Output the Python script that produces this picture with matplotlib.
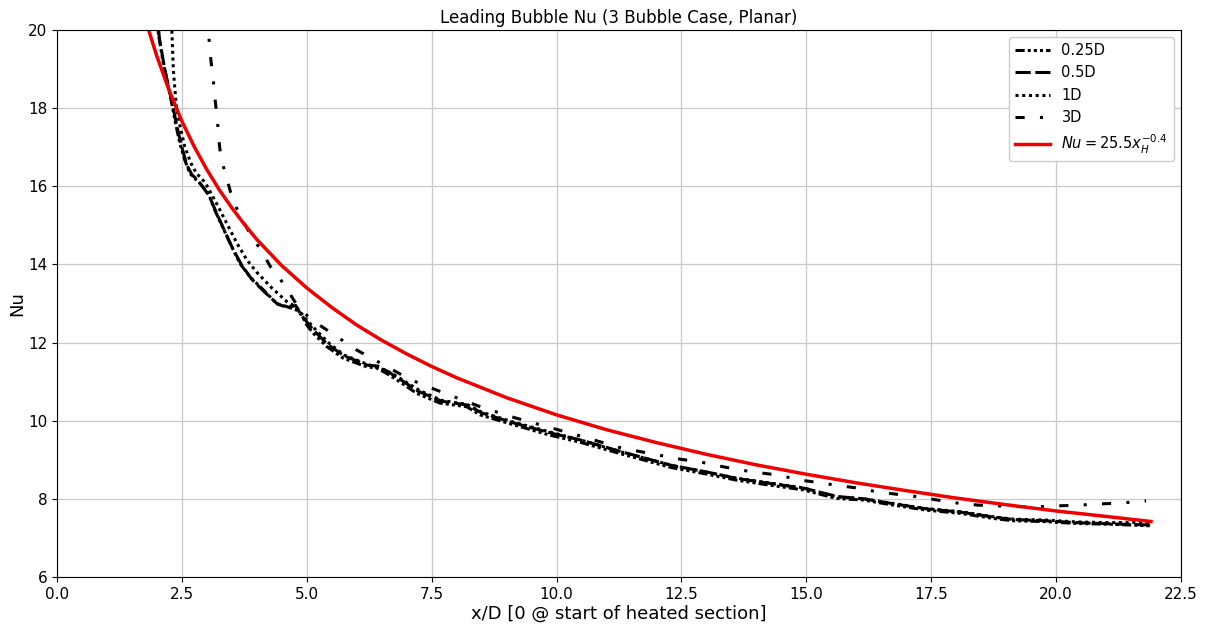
import matplotlib
matplotlib.use("Agg")
import matplotlib.pyplot as plt

# ---- data ----
x_025 = [2.00, 2.03, 2.13, 2.23, 2.30, 2.36, 2.46, 2.56, 2.66, 2.76, 2.86, 3.03, 3.16, 3.33, 3.50,
         3.66, 3.86, 4.13, 4.40, 4.60, 4.80, 4.90, 5.00, 5.13, 5.40, 5.73, 6.20, 6.40, 6.60, 6.86,
         7.20, 7.67, 8.20, 8.47, 9.13, 9.87, 10.47, 11.30, 12.30, 12.94, 13.60, 14.27, 14.94,
         15.60, 16.14, 16.74, 17.41, 18.07, 18.74, 19.13, 19.74, 20.41, 21.08, 21.88]
nu_025 = [20.6, 19.9, 19.15, 18.55, 18.12, 17.70, 17.10, 16.67, 16.33, 16.20, 16.08, 15.82, 15.39, 14.92, 14.45,
          14.03, 13.69, 13.35, 13.00, 12.92, 12.83, 12.70, 12.45, 12.24, 11.90, 11.60, 11.38, 11.35, 11.21, 11.00,
          10.70, 10.45, 10.36, 10.15, 9.90, 9.63, 9.45, 9.15, 8.80, 8.65, 8.48, 8.35, 8.23,
          8.01, 7.97, 7.84, 7.71, 7.63, 7.50, 7.44, 7.42, 7.37, 7.35, 7.31]

x_05 = [2.00, 2.05, 2.15, 2.25, 2.32, 2.40, 2.50, 2.60, 2.70, 2.80, 2.90, 3.05, 3.20, 3.36, 3.52,
        3.70, 3.90, 4.15, 4.42, 4.62, 4.78, 4.88, 5.02, 5.15, 5.42, 5.75, 6.22, 6.42, 6.62, 6.88,
        7.22, 7.70, 8.22, 8.50, 9.15, 9.90, 10.50, 11.32, 12.32, 12.96, 13.62, 14.30, 14.96,
        15.62, 16.16, 16.76, 17.43, 18.09, 18.76, 19.15, 19.76, 20.43, 21.10, 21.90]
nu_05 = [20.5, 19.8, 19.05, 18.45, 18.05, 17.55, 17.00, 16.55, 16.30, 16.18, 16.02, 15.75, 15.30, 14.85, 14.40,
         13.98, 13.62, 13.30, 12.98, 12.90, 12.95, 12.72, 12.50, 12.30, 11.95, 11.66, 11.42, 11.40, 11.26, 11.05,
         10.76, 10.50, 10.40, 10.20, 9.94, 9.68, 9.50, 9.20, 8.85, 8.70, 8.52, 8.39, 8.27,
         8.06, 8.00, 7.87, 7.74, 7.66, 7.53, 7.47, 7.44, 7.39, 7.36, 7.33]

x_1 = [2.28, 2.30, 2.33, 2.39, 2.47, 2.56, 2.68, 2.79, 2.90, 3.00, 3.20, 3.40, 3.60, 3.80, 4.00,
       4.30, 4.60, 4.80, 5.00, 5.20, 5.45, 5.75, 6.20, 6.60, 6.90, 7.25, 7.70, 8.20, 8.50, 9.15,
       9.90, 10.50, 11.30, 12.30, 12.95, 13.60, 14.30, 14.95, 15.60, 16.15, 16.75, 17.40, 18.10,
       18.75, 19.15, 19.75, 20.40, 21.10, 21.90]
nu_1 = [20.5, 20.0, 18.98, 18.04, 17.50, 17.01, 16.60, 16.33, 16.20, 16.02, 15.55, 15.05, 14.55, 14.12, 13.80,
        13.40, 13.05, 12.90, 12.58, 12.30, 11.98, 11.68, 11.45, 11.28, 11.06, 10.78, 10.52, 10.42, 10.22, 9.96,
        9.70, 9.50, 9.20, 8.86, 8.70, 8.53, 8.40, 8.28, 8.05, 8.00, 7.88, 7.75, 7.67,
        7.54, 7.48, 7.46, 7.41, 7.39, 7.40]

x_3 = [3.02, 3.04, 3.08, 3.13, 3.16, 3.21, 3.24, 3.28, 3.40, 3.51, 3.66, 3.86, 4.10, 4.28, 4.53,
       4.76, 5.00, 5.30, 5.70, 6.00, 6.37, 7.06, 7.43, 7.85, 8.47, 9.10, 9.80, 10.50, 11.30, 12.50,
       12.86, 13.26, 13.67, 14.04, 14.44, 14.87, 15.24, 15.64, 16.07, 16.41, 16.86, 17.26, 17.62,
       18.04, 18.44, 18.82, 19.28, 19.68, 20.04, 20.48, 20.88, 21.24, 21.68, 21.80]
nu_3 = [20.4, 19.83, 19.25, 18.72, 18.28, 17.72, 17.21, 16.74, 16.20, 15.69, 15.26, 14.80, 14.33, 13.93, 13.52,
        13.05, 12.70, 12.41, 12.07, 11.81, 11.55, 11.06, 10.87, 10.66, 10.36, 10.10, 9.85, 9.60, 9.30, 9.01,
        8.95, 8.84, 8.74, 8.67, 8.61, 8.48, 8.42, 8.34, 8.27, 8.18, 8.11, 8.05, 7.97,
        7.89, 7.84, 7.82, 7.80, 7.80, 7.82, 7.84, 7.87, 7.89, 7.93, 7.95]

x_fit = [1.85, 2.0, 2.25, 2.5, 2.75, 3.0, 3.25, 3.5, 3.75, 4.0, 4.5, 5.0, 5.5, 6.0, 6.5, 7.0, 7.5,
         8.0, 9.0, 10.0, 11.0, 12.0, 13.0, 14.0, 15.0, 16.0, 17.0, 18.0, 19.0, 20.0, 21.0, 21.9]
nu_fit = [19.94, 19.33, 18.44, 17.67, 17.01, 16.43, 15.91, 15.45, 15.03, 14.64, 13.97, 13.40, 12.90,
          12.45, 12.06, 11.71, 11.39, 11.10, 10.59, 10.15, 9.77, 9.44, 9.14, 8.87, 8.63, 8.41, 8.21,
          8.02, 7.85, 7.69, 7.55, 7.42]

series_labels = ["0.25D", "0.5D", "1D", "3D"]
fit_label = r"$Nu = 25.5x_H^{-0.4}$"
x_ticks = [0.0, 2.5, 5.0, 7.5, 10.0, 12.5, 15.0, 17.5, 20.0, 22.5]
y_ticks = [6, 8, 10, 12, 14, 16, 18, 20]

# ---- plot ----
fig = plt.figure(figsize=(12.09, 6.26), dpi=100)
ax = fig.add_axes([0.0471, 0.0783, 0.9297, 0.8737])

lw = 2.2
ax.plot(x_025, nu_025, color="black", lw=lw, linestyle=(0, (3, 1, 1, 1, 1, 1, 1, 1)), label=series_labels[0])
ax.plot(x_05, nu_05, color="black", lw=lw, linestyle=(0, (5, 1.5)), label=series_labels[1])
ax.plot(x_1, nu_1, color="black", lw=lw, linestyle=(0, (1, 1.2)), label=series_labels[2])
ax.plot(x_3, nu_3, color="black", lw=lw, linestyle=(0, (3, 5, 1, 5)), label=series_labels[3])
ax.plot(x_fit, nu_fit, color="#ee0000", lw=2.5, label=fit_label)

ax.set_xlim(0, 22.5)
ax.set_ylim(6, 20)
ax.set_xticks(x_ticks)
ax.set_yticks(y_ticks)
ax.tick_params(labelsize=11)
ax.grid(True, color="#c8c8c8", lw=0.9)
ax.set_axisbelow(True)

ax.set_title("Leading Bubble Nu (3 Bubble Case, Planar)", fontsize=12, pad=5)
ax.set_xlabel("x/D [0 @ start of heated section]", fontsize=13, labelpad=2)
ax.set_ylabel("Nu", fontsize=13, labelpad=1)

ax.legend(loc="upper right", fontsize=10.5, handlelength=2.4, borderaxespad=0.5, framealpha=1.0)

fig.savefig("out.png", dpi=100)
